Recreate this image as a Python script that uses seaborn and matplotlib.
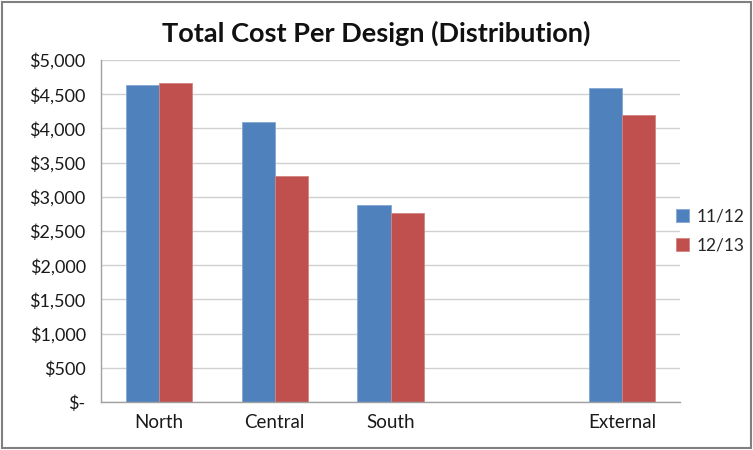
import matplotlib
matplotlib.use("Agg")
import matplotlib.pyplot as plt
import seaborn as sns
import pandas as pd
import numpy as np
from matplotlib.patches import Rectangle
from matplotlib.colors import to_rgb

categories = ["North", "Central", "South", " ", "External"]
series_names = ["11/12", "12/13"]
values_1112 = [4640, 4100, 2875, np.nan, 4590]
values_1213 = [4665, 3305, 2760, np.nan, 4190]
ytick_values = [0, 500, 1000, 1500, 2000, 2500, 3000, 3500, 4000, 4500, 5000]
ytick_labels = ["$-", "$500", "$1,000", "$1,500", "$2,000", "$2,500",
                "$3,000", "$3,500", "$4,000", "$4,500", "$5,000"]
title = "Total Cost Per Design (Distribution)"

df = pd.DataFrame({
    "Region": categories * 2,
    "Year": [series_names[0]] * len(categories) + [series_names[1]] * len(categories),
    "Cost": values_1112 + values_1213,
})

sns.set_style("white")
plt.rcParams["font.family"] = ["Lato", "DejaVu Sans"]

fig = plt.figure(figsize=(7.53, 4.50), dpi=100)
ax = fig.add_axes([101/753, 1 - 402/450, (680 - 101)/753, (402 - 60)/450])

palette = {"11/12": "#4F81BD", "12/13": "#C0504D"}
sns.barplot(data=df, x="Region", y="Cost", hue="Year", order=categories,
            hue_order=series_names, palette=palette, width=0.57,
            saturation=1, ax=ax, errorbar=None, legend=True)
for p in ax.patches:
    fc = np.array(to_rgb(p.get_facecolor()))
    p.set_edgecolor(tuple(fc + (1 - fc) * 0.3))
    p.set_linewidth(0.6)

ax.set_xlim(-0.5, len(categories) - 0.5)
ax.set_ylim(0, 5000)
ax.set_yticks(ytick_values)
ax.set_yticklabels(ytick_labels, fontsize=13)
ax.yaxis.grid(True, color="#d0d0d0", linewidth=1)
ax.set_axisbelow(True)
ax.set_xlabel("")
ax.set_ylabel("")
ax.tick_params(axis="x", which="major", length=0, labelsize=13.5, pad=9)
ax.set_xticks(np.arange(-0.5, len(categories)), minor=True)
ax.tick_params(axis="x", which="minor", length=5, color="#a0a0a0", direction="out")
ax.tick_params(axis="y", length=5, color="#a0a0a0", direction="out", pad=6)
for lab in ax.get_yticklabels() + ax.get_xticklabels():
    lab.set_color("#1a1a1a")
for side in ["top", "right"]:
    ax.spines[side].set_visible(False)
for side in ["left", "bottom"]:
    ax.spines[side].set_color("#a0a0a0")
    ax.spines[side].set_linewidth(1)

leg = ax.legend(loc="center left", bbox_to_anchor=(0.993, 0.5), frameon=False,
                fontsize=12.5, handlelength=0.75, handleheight=0.75,
                handletextpad=0.45, labelspacing=0.75,
                borderpad=0, borderaxespad=0)

fig.text(376/753, 1 - 33/450, title, ha="center", va="center",
         fontsize=19.5, fontweight="bold", color="#111111")

fig.patches.append(Rectangle((0.002, 0.004), 0.995, 0.992, transform=fig.transFigure,
                             fill=False, edgecolor="#808080", linewidth=1.5))

fig.savefig("out.png", dpi=100)
